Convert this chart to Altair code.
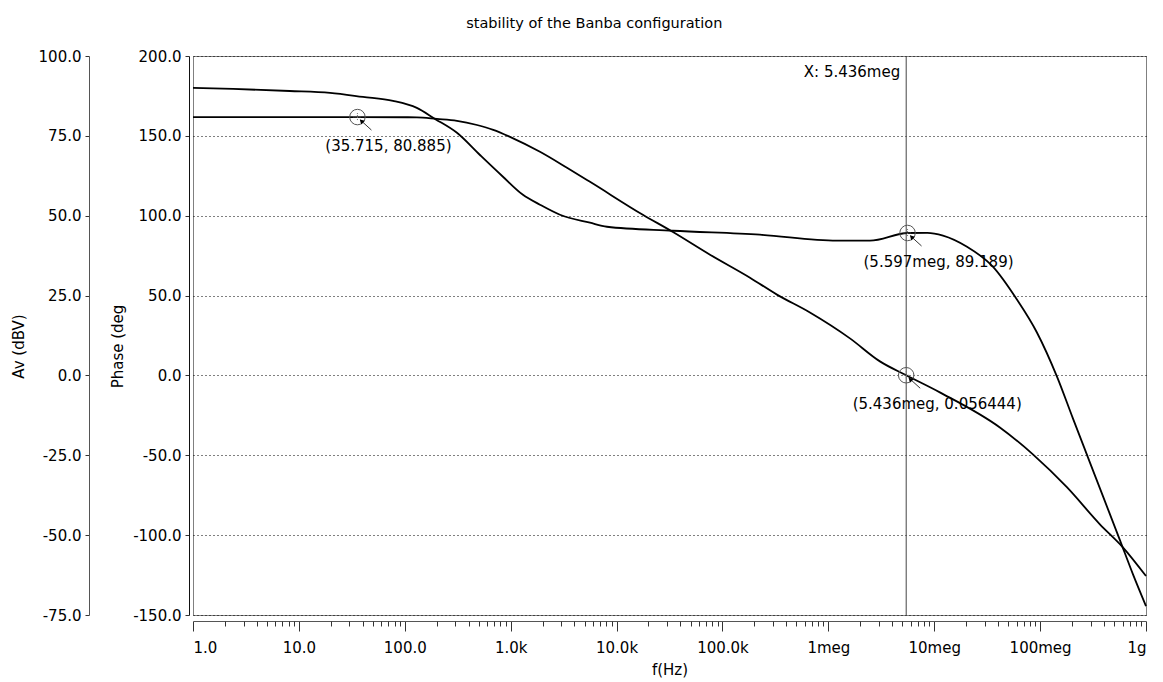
import altair as alt
import pandas as pd

FONT = "DejaVu Sans"

# Open-loop gain Av (dBV) of the Banba stage
gain_freq = [1, 35.715, 130, 201, 311, 481, 685, 985, 1891, 3404, 5613,
             17.7e3, 34.1e3, 76.3e3, 182e3, 327e3, 670e3, 1.60e6, 3.07e6,
             5.436e6, 11.3e6, 41.7e6, 85.5e6, 179e6, 367e6, 605e6, 1e9]
gain_db = [80.885, 80.885, 80.8, 80.3, 79.7, 78.4, 76.9, 74.7, 70.0, 65.0, 60.6,
           50.3, 44.9, 37.8, 30.6, 25.3, 19.7, 11.6, 4.4,
           0.056444, -5.3, -16.3, -24.7, -35.0, -46.6, -53.8, -62.8]

# Loop phase (deg)
phase_freq = [1, 2.39, 8.2, 19.7, 40.3, 77.4, 130, 193, 311, 513, 846, 1306,
              1891, 2923, 5613, 8118, 34.1e3, 226e3, 1.206e6, 2.47e6, 5.597e6,
              8.6e6, 12.1e6, 20.4e6, 35.8e6, 60.4e6, 93.3e6, 144e6, 204e6, 295e6,
              392e6, 567e6, 752e6, 1e9]
phase_deg = [180, 179.4, 178.1, 176.9, 174.4, 171.9, 167.5, 160.6, 151.9, 138.0,
             124.4, 113.1, 106.9, 100.6, 95.6, 93.1, 90.6, 88.1, 84.4, 84.4,
             89.189, 89.3, 87.6, 80.6, 68.1, 47.5, 26.9, -0.6, -26.9, -54.4, -75.6,
             -103.1, -124.4, -144.4]

# Cursor read-outs
gain_mark_freq = [35.715, 5.436e6]
gain_mark_db = [80.885, 0.056444]
gain_mark_text = ["(35.715, 80.885)", "(5.436meg, 0.056444)"]
phase_mark_freq = [5.597e6]
phase_mark_deg = [89.189]
phase_mark_text = ["(5.597meg, 89.189)"]

cursor_freq = [5.436e6]
cursor_text = ["X: 5.436meg"]
cursor_text_db = [95]

# Axis ticks and labels
freq_labels = ["1.0", "10.0", "100.0", "1.0k", "10.0k", "100.0k",
               "1meg", "10meg", "100meg", "1g"]
major_ticks = [10 ** d for d in range(10)]
minor_ticks = [k * 10 ** d for d in range(9) for k in range(2, 10)]
av_ticks = [-75, -50, -25, 0, 25, 50, 75, 100]
phase_ticks = [-150, -100, -50, 0, 50, 100, 150, 200]

gain_df = pd.DataFrame({"f": gain_freq, "av": gain_db})
phase_df = pd.DataFrame({"f": phase_freq, "ph": phase_deg})
gain_marks = pd.DataFrame({"f": gain_mark_freq, "av": gain_mark_db, "label": gain_mark_text})
phase_marks = pd.DataFrame({"f": phase_mark_freq, "ph": phase_mark_deg, "label": phase_mark_text})
cursor_df = pd.DataFrame({"f": cursor_freq, "av": cursor_text_db, "label": cursor_text})

freq_label_expr = "[" + ",".join(f"'{s}'" for s in freq_labels) + "][round(log(datum.value)/LN10)]"
# one decimal, plain hyphen for negatives
num_label_expr = "replace(format(datum.value, '.1f'), '\u2212', '-')"
x_scale = alt.Scale(type="log", domain=[1, 1e9], nice=False)

x_major = alt.X("f:Q", scale=x_scale, axis=alt.Axis(
    orient="bottom", values=major_ticks, labelExpr=freq_label_expr, offset=6,
    tickSize=10, labelPadding=9, grid=False, title="f(Hz)", titlePadding=7,
    domainColor="#555", tickColor="#333"))
x_minor = alt.X("f:Q", scale=x_scale, axis=alt.Axis(
    orient="bottom", values=minor_ticks, labels=False, domain=False, offset=6,
    tickSize=5, grid=False, title=None, tickColor="#333"))

av_axis = alt.Axis(orient="left", offset=104, values=av_ticks, labelExpr=num_label_expr,
                   tickSize=4, labelPadding=4, grid=False, title="Av (dBV)",
                   titleX=-71, titleY=290, titleAngle=270, titleAlign="center",
                   titleBaseline="middle", domainColor="#555", tickColor="#333")
ph_axis = alt.Axis(orient="left", offset=4, values=phase_ticks, labelExpr=num_label_expr,
                   tickSize=4, labelPadding=4, grid=True, gridDash=[1, 3],
                   gridColor="#000", gridOpacity=1, title="Phase (deg",
                   titleX=-72, titleY=290, titleAngle=270, titleAlign="center",
                   titleBaseline="middle", domainColor="#111", tickColor="#333")
av_y = alt.Y("av:Q", scale=alt.Scale(domain=[-75, 100], nice=False, zero=False), axis=av_axis)
ph_y = alt.Y("ph:Q", scale=alt.Scale(domain=[-150, 200], nice=False, zero=False), axis=ph_axis)

cross_path = "M-1,0H1M0,-1V1"


def marker_layers(df, x_enc, y_enc, field):
    circle = alt.Chart(df).mark_point(shape="circle", filled=False, size=240,
                                      color="#555", strokeWidth=1, opacity=1).encode(x=x_enc, y=y_enc)
    cross = alt.Chart(df).mark_point(shape=cross_path, filled=False, size=64,
                                     color="#777", strokeWidth=1, strokeDash=[1, 1],
                                     opacity=1).encode(x=x_enc, y=y_enc)
    arrow = alt.Chart(df).mark_rule(color="#333", strokeWidth=1, xOffset=3, yOffset=3,
                                    x2Offset=14, y2Offset=13).encode(
        x=x_enc, y=y_enc, x2=alt.X2("f"), y2=alt.Y2(field))
    head = alt.Chart(df).mark_point(shape="triangle-up", filled=True, size=28, angle=315,
                                    xOffset=4, yOffset=4, color="#000", opacity=1).encode(x=x_enc, y=y_enc)
    text = alt.Chart(df).mark_text(font=FONT, fontSize=15, align="center", baseline="middle",
                                   dx=31, dy=29, color="#000").encode(x=x_enc, y=y_enc, text="label:N")
    return [circle, cross, arrow, head, text]


gain_line = alt.Chart(gain_df).mark_line(color="#000", strokeWidth=1.8, interpolate="monotone").encode(
    x=x_major, y=av_y, order="f:Q")
cursor_rule = alt.Chart(cursor_df).mark_rule(color="#444", strokeWidth=1).encode(x=x_major)
cursor_label = alt.Chart(cursor_df).mark_text(font=FONT, fontSize=15, align="right",
                                              baseline="middle", dx=-6, color="#000").encode(
    x=x_major, y=av_y, text="label:N")

gain_group = alt.layer(gain_line, cursor_rule, cursor_label,
                       *marker_layers(gain_marks, x_major, av_y, "av"))

phase_line = alt.Chart(phase_df).mark_line(color="#000", strokeWidth=1.8, interpolate="monotone").encode(
    x=x_minor, y=ph_y, order="f:Q")
phase_group = alt.layer(phase_line, *marker_layers(phase_marks, x_minor, ph_y, "ph"))

chart = alt.layer(gain_group, phase_group).resolve_scale(
    y="independent").resolve_axis(x="independent", y="independent").properties(
    width=953, height=559,
    padding={"left": 193, "top": 56, "right": 17, "bottom": 67},
    autosize=alt.AutoSizeParams(type="none"),
    title=alt.Title("stability of the Banba configuration", font=FONT, fontSize=14.5,
                    fontWeight="normal", anchor="middle", frame="bounds", offset=18,
                    dx=14, color="#000"),
    background="white",
).configure_view(stroke="#808080", strokeWidth=1).configure_axis(
    labelFont=FONT, labelFontSize=15, labelColor="#000", titleFont=FONT,
    titleFontSize=15, titleFontWeight="normal", titleColor="#000")

chart.save("out.html", embed_options={"renderer": "svg", "actions": False})
